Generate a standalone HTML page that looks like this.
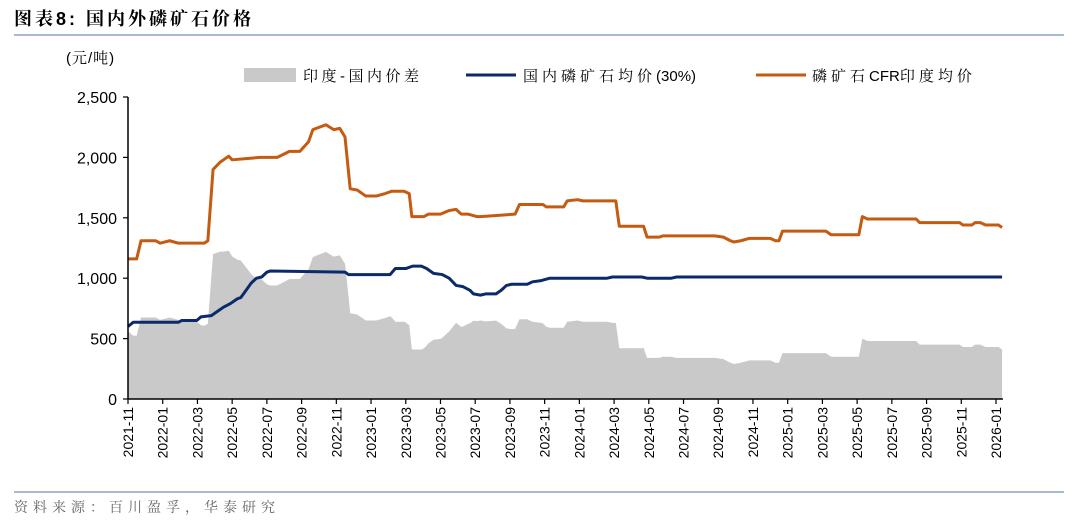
<!DOCTYPE html>
<html><head><meta charset="utf-8"><style>
body{margin:0;background:#fff;width:1080px;height:525px;overflow:hidden;font-family:"Liberation Sans","Noto Sans CJK SC",sans-serif}
</style></head><body>
<svg width="1080" height="525" id="chart" xmlns="http://www.w3.org/2000/svg">
<text x="14" y="25" font-size="18" font-weight="bold" fill="#000" letter-spacing="3" font-family="Liberation Sans,Noto Serif CJK SC,serif">图表8:  国内外磷矿石价格</text>
<line x1="14" y1="35" x2="1064" y2="35" stroke="#8aa4c4" stroke-width="1.5"/>
<text x="66" y="63" font-size="15" letter-spacing="1" font-family="Liberation Sans,Noto Serif CJK SC,serif">(元/吨)</text>
<g font-size="15" font-family="Liberation Sans,Noto Serif CJK SC,serif">
<rect x="244" y="68" width="52" height="14" fill="#c9c9c9"/>
<text x="303" y="81" letter-spacing="3.5">印度-国内价差</text>
<line x1="466" y1="75" x2="516" y2="75" stroke="#0b2a6b" stroke-width="3"/>
<text x="523" y="81"><tspan letter-spacing="4">国内磷矿石均价</tspan><tspan>(30%)</tspan></text>
<line x1="756" y1="75" x2="806" y2="75" stroke="#c55a11" stroke-width="3"/>
<text x="812" y="81"><tspan letter-spacing="4">磷矿石</tspan><tspan>CFR</tspan><tspan letter-spacing="4">印度均价</tspan></text>
</g>
<g id="plot"></g>
<line x1="14" y1="492" x2="1064" y2="492" stroke="#8aa4c4" stroke-width="1.5"/>
<text x="14" y="512" font-size="14" fill="#666" letter-spacing="5" font-family="Liberation Sans,Noto Serif CJK SC,serif">资料来源：百川盈孚，华泰研究</text>
</svg>
<script>
const cfrMonths=[0,0.5,0.75,1.6,1.85,2.4,2.9,4.4,4.6,4.9,5.3,5.8,6,6.8,7.6,8.6,9.3,9.9,10.4,10.65,11.4,11.85,12.2,12.5,12.8,13.2,13.7,14.3,14.8,15.2,15.9,16.2,16.35,17.05,17.3,18,18.5,18.9,19.2,19.6,20.1,20.3,22.3,22.55,23.9,24.1,25.1,25.3,25.9,26.2,28.1,28.3,29.7,29.9,30.6,30.8,33.8,34.3,34.7,34.9,35.3,35.8,37,37.3,37.5,37.7,40.2,40.5,42.1,42.3,42.6,45.4,45.6,47.9,48.1,48.6,48.8,49.1,49.4,50.15,50.35];
const cfrValues=[1160,1160,1310,1310,1290,1310,1290,1290,1310,1900,1960,2010,1980,1990,2000,2000,2050,2050,2130,2230,2270,2230,2240,2170,1740,1730,1680,1680,1700,1720,1720,1700,1510,1510,1530,1530,1560,1570,1530,1530,1510,1510,1530,1610,1610,1590,1590,1640,1650,1640,1640,1430,1430,1340,1340,1350,1350,1340,1310,1300,1310,1330,1330,1310,1310,1390,1390,1360,1360,1510,1490,1490,1460,1460,1440,1440,1460,1460,1440,1440,1420];
const domMonths=[0,0.3,2.9,3.1,3.96,4.2,4.8,5.1,5.5,5.9,6.3,6.5,6.7,7.1,7.4,7.7,8,8.2,12.5,12.7,15.1,15.4,16,16.4,16.9,17.2,17.6,18.1,18.5,18.9,19.3,19.7,19.9,20.3,20.6,21.2,21.5,21.8,22.1,23,23.3,23.8,24.3,27.6,27.9,29.6,29.9,31.3,31.6,50.35];
const domValues=[600,635,635,650,650,680,690,720,760,790,830,840,880,960,1000,1010,1050,1060,1050,1030,1030,1080,1080,1100,1100,1080,1040,1030,1000,940,930,900,870,860,870,870,900,940,950,950,970,980,1000,1000,1010,1010,1000,1000,1010,1010];
const yTicks=[0,500,1000,1500,2000,2500];
const yTickLabels=["0","500","1,000","1,500","2,000","2,500"];
const xTickLabels=["2021-11","2022-01","2022-03","2022-05","2022-07","2022-09","2022-11","2023-01","2023-03","2023-05","2023-07","2023-09","2023-11","2024-01","2024-03","2024-05","2024-07","2024-09","2024-11","2025-01","2025-03","2025-05","2025-07","2025-09","2025-11","2026-01"];

const NS="http://www.w3.org/2000/svg";
const X0=128,PXM=17.36,Y0=399,YMAX=2500,YTOP=97;
const xs=m=>X0+m*PXM;
const ys=v=>Y0-v*(Y0-YTOP)/YMAX;
const plot=document.getElementById('plot');
function mk(t,a){const e=document.createElementNS(NS,t);for(const k in a)e.setAttribute(k,a[k]);plot.appendChild(e);return e;}
function interp(ms,vs,m){if(m<=ms[0])return vs[0];for(let i=1;i<ms.length;i++){if(m<=ms[i]){const t=(m-ms[i-1])/(ms[i]-ms[i-1]);return vs[i-1]+t*(vs[i]-vs[i-1]);}}return vs[vs.length-1];}
const allM=[...new Set([...cfrMonths,...domMonths])].sort((a,b)=>a-b);
let d=`M${xs(allM[0])},${ys(0)}`;
allM.forEach(m=>{d+=` L${xs(m)},${ys(interp(cfrMonths,cfrValues,m)-interp(domMonths,domValues,m))}`;});
d+=` L${xs(allM[allM.length-1])},${ys(0)} Z`;
let e=mk('path',{d:d,fill:'#c9c9c9'});


function line(ms,vs,col,name){let p=ms.map((m,i)=>(i?'L':'M')+xs(m)+','+ys(vs[i])).join(' ');const l=mk('path',{d:p,fill:'none',stroke:col,'stroke-width':3,'stroke-linejoin':'round'});

}
line(domMonths,domValues,'#0b2a6b','domestic-price-line');
line(cfrMonths,cfrValues,'#c55a11','cfr-india-price-line');
let a=mk('line',{x1:X0,y1:YTOP,x2:X0,y2:Y0,stroke:'#000','stroke-width':1.5});


a=mk('line',{x1:X0,y1:Y0,x2:xs(50.4),y2:Y0,stroke:'#000','stroke-width':1.5});


yTicks.forEach((v,i)=>{mk('line',{x1:X0-5,y1:ys(v),x2:X0,y2:ys(v),stroke:'#000','stroke-width':1.2});
const t=mk('text',{x:117,y:ys(v)+6,'text-anchor':'end','font-size':16,'font-family':'Liberation Sans,sans-serif'});t.textContent=yTickLabels[i];

});
xTickLabels.forEach((lab,i)=>{const x=xs(i*2);mk('line',{x1:x,y1:Y0,x2:x,y2:Y0+5,stroke:'#000','stroke-width':1.2});
const t=mk('text',{x:0,y:0,'text-anchor':'end','font-size':14,'font-family':'Liberation Sans,sans-serif',transform:`translate(${x+5},${Y0+8}) rotate(-90)`});t.textContent=lab;

});
</script>
</body></html>
